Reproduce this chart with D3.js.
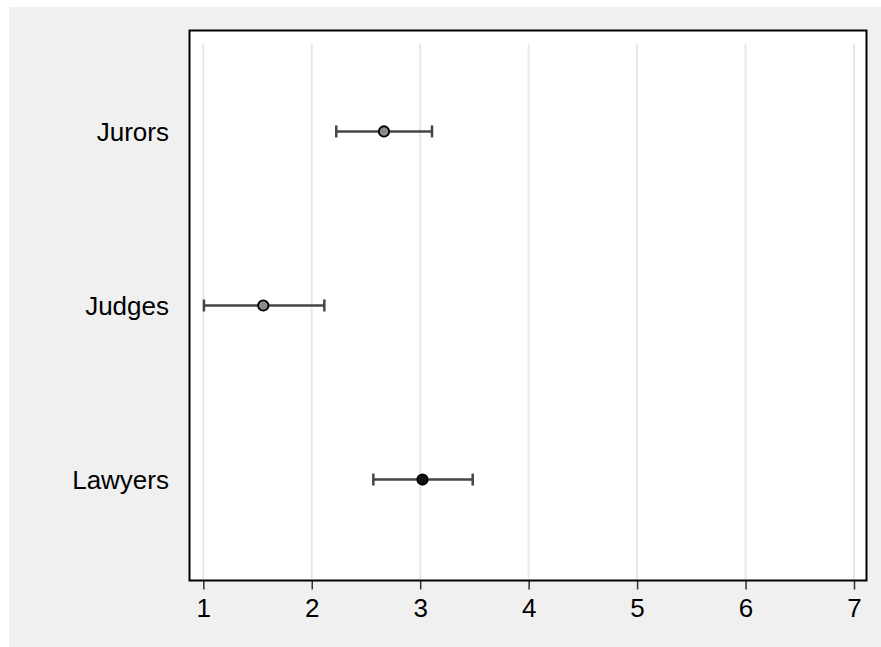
<!DOCTYPE html>
<html>
<head>
<meta charset="utf-8">
<script src="https://cdn.jsdelivr.net/npm/d3@7"></script>
<style>
  body { margin: 0; background: #fff; }
  text { font-family: "Liberation Sans", Arial, sans-serif; }
</style>
</head>
<body>
<div id="graph1"></div>
<script>
let width = 881,
    height = 647;

let groups = ["Jurors", "Judges", "Lawyers"];
let means = [2.666, 1.553, 3.021];
let lower = [2.226, 1.006, 2.568];
let upper = [3.109, 2.116, 3.484];
let fills = ["#8a8a8a", "#8a8a8a", "#111111"];
let xTicks = [1, 2, 3, 4, 5, 6, 7];

let data = groups.map(function (g, i) {
    return { name: g, mean: means[i], lo: lower[i], hi: upper[i], fill: fills[i] };
});

let plot = { left: 189.5, top: 30.5, right: 866.5, bottom: 580.5 };

let svg = d3.select("#graph1")
    .append("svg")
    .attr("width", width)
    .attr("height", height);

// outer gray panel
svg.append("rect")
    .attr("x", 9).attr("y", 7)
    .attr("width", width - 9).attr("height", height - 7)
    .attr("fill", "#f0f0f0");

svg.append("rect")
    .attr("x", plot.left).attr("y", plot.top)
    .attr("width", plot.right - plot.left).attr("height", plot.bottom - plot.top)
    .attr("fill", "#fff");

let x = d3.scaleLinear()
    .domain([1, 7])
    .range([203.3, 854]);

let y = d3.scalePoint()
    .domain(groups)
    .range([plot.top, plot.bottom])
    .padding(0.58);

// gridlines
svg.append("g")
    .selectAll("line")
    .data(xTicks)
    .enter()
    .append("line")
    .attr("x1", d => x(d)).attr("x2", d => x(d))
    .attr("y1", 44).attr("y2", plot.bottom)
    .attr("stroke", "#e8e8e8")
    .attr("stroke-width", 2);

// x axis
let xAxis = svg.append("g")
    .attr("transform", `translate(0, ${plot.bottom})`)
    .call(d3.axisBottom(x).tickValues(xTicks).tickFormat(d3.format("d")).tickSize(9).tickPadding(9));
xAxis.select(".domain").remove();
xAxis.selectAll("line").attr("stroke", "#333").attr("stroke-width", 1.5);
xAxis.selectAll("text")
    .attr("fill", "#000")
    .style("font-family", "Liberation Sans, Arial, sans-serif")
    .style("font-size", "26px");

// y labels
svg.append("g")
    .selectAll("text")
    .data(groups)
    .enter()
    .append("text")
    .attr("x", 169)
    .attr("y", d => y(d))
    .attr("dy", "0.35em")
    .style("text-anchor", "end")
    .style("font-size", "26px")
    .text(d => d);

// error bars
let bars = svg.append("g").selectAll("g").data(data).enter().append("g");

bars.append("line")
    .attr("x1", d => x(d.lo)).attr("x2", d => x(d.hi))
    .attr("y1", d => y(d.name)).attr("y2", d => y(d.name))
    .attr("stroke", "#454545").attr("stroke-width", 2.5);

bars.selectAll(".cap")
    .data(d => [{ v: d.lo, name: d.name }, { v: d.hi, name: d.name }])
    .enter()
    .append("line")
    .attr("class", "cap")
    .attr("x1", d => x(d.v)).attr("x2", d => x(d.v))
    .attr("y1", d => y(d.name) - 6).attr("y2", d => y(d.name) + 6)
    .attr("stroke", "#454545").attr("stroke-width", 2.5);

bars.append("circle")
    .attr("cx", d => x(d.mean))
    .attr("cy", d => y(d.name))
    .attr("r", 5.2)
    .attr("fill", d => d.fill)
    .attr("stroke", "#000")
    .attr("stroke-width", 1.8);

// frame
svg.append("rect")
    .attr("x", plot.left).attr("y", plot.top)
    .attr("width", plot.right - plot.left).attr("height", plot.bottom - plot.top)
    .attr("fill", "none")
    .attr("stroke", "#000")
    .attr("stroke-width", 2);
</script>
</body>
</html>
